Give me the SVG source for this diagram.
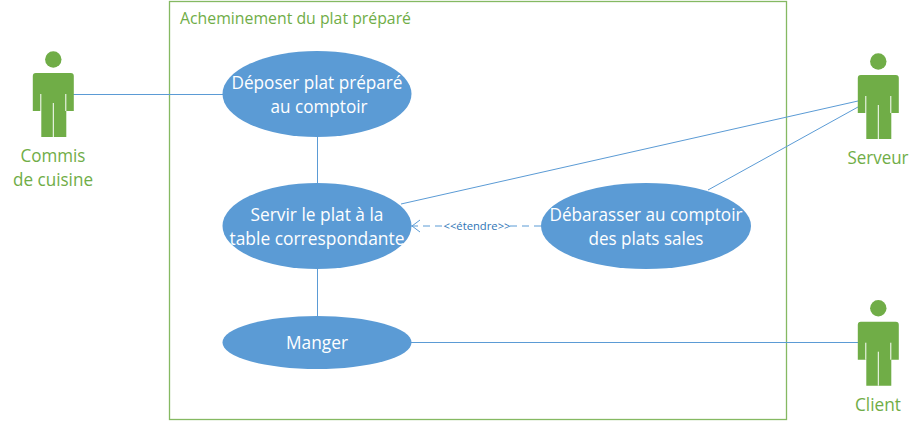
<svg xmlns="http://www.w3.org/2000/svg" width="922" height="427" viewBox="0 0 922 427">
<style>
text{font-family:"Open Sans","Noto Sans","Liberation Sans",sans-serif;text-anchor:middle}
.uc{fill:#5b9bd5}
.ut{fill:#fff;font-size:18.500px}
.g{fill:#70ad47}
.gt{fill:#70ad47;font-size:17.500px}
.c{fill:none;stroke:#5b9bd5;stroke-width:1}
.w{fill:none;stroke:#fff;stroke-width:1}
</style>
<defs>
<g id="actor">
<circle class="g" cx="0" cy="-13.500" r="8.200"/>
<path class="g" d="M-17.500 0H17.500Q20.500 0 20.500 3V38H13V64H-12V38H-20.500V3Q-20.500 0 -17.500 0Z"/>
<path class="w" d="M-12.500 21V38M12.500 21V38M0 30V64"/>
</g>
</defs>
<rect width="922" height="427" fill="#fff"/>
<g id="frame">
<rect x="169.500" y="1.500" width="617" height="418" fill="none" stroke="#70ad47" stroke-opacity=".85" stroke-width="1.300"/>
<text class="gt" x="180" y="24" style="text-anchor:start;font-size:15.500px" textLength="231" lengthAdjust="spacingAndGlyphs">Acheminement du plat préparé</text>
</g>
<g id="connectors">
<path class="c" d="M73 94.500H223"/>
<path class="c" d="M317.500 137V183"/>
<path class="c" d="M317.500 269V316"/>
<path class="c" d="M401 204L858 101"/>
<path class="c" d="M708 190L858 107"/>
<path class="c" d="M411 342.500H858"/>
<path class="c" d="M541 226H510M442 226H411" stroke-dasharray="7 5"/>
<path class="c" d="M420 220L412 226L420 232"/>
<text x="477" y="230" style="font-size:10.500px;fill:#2e75b6" textLength="67" lengthAdjust="spacingAndGlyphs">&lt;&lt;étendre&gt;&gt;</text>
</g>
<g id="uc1">
<ellipse class="uc" cx="317" cy="94" rx="94.500" ry="43"/>
<text class="ut" x="317" y="89" textLength="171" lengthAdjust="spacingAndGlyphs">Déposer plat préparé</text>
<text class="ut" x="319" y="113" textLength="97" lengthAdjust="spacingAndGlyphs">au comptoir</text>
</g>
<g id="uc2">
<ellipse class="uc" cx="317" cy="226" rx="94.500" ry="43"/>
<text class="ut" x="317" y="221" textLength="133" lengthAdjust="spacingAndGlyphs">Servir le plat à la</text>
<text class="ut" x="317" y="245" textLength="175" lengthAdjust="spacingAndGlyphs">table correspondante</text>
</g>
<g id="uc3">
<ellipse class="uc" cx="646" cy="226" rx="105" ry="43"/>
<text class="ut" x="646" y="221" textLength="193" lengthAdjust="spacingAndGlyphs">Débarasser au comptoir</text>
<text class="ut" x="646" y="245" textLength="115" lengthAdjust="spacingAndGlyphs">des plats sales</text>
</g>
<g id="uc4">
<ellipse class="uc" cx="317" cy="342.500" rx="94.500" ry="26.500"/>
<text class="ut" x="317" y="349" textLength="62" lengthAdjust="spacingAndGlyphs">Manger</text>
</g>
<g id="actor-commis">
<use href="#actor" x="53.300" y="73"/>
<text class="gt" x="53" y="162" textLength="65" lengthAdjust="spacingAndGlyphs">Commis</text>
<text class="gt" x="53" y="186" textLength="80" lengthAdjust="spacingAndGlyphs">de cuisine</text>
</g>
<g id="actor-serveur">
<use href="#actor" x="878.300" y="75"/>
<text class="gt" x="878" y="164" textLength="61" lengthAdjust="spacingAndGlyphs">Serveur</text>
</g>
<g id="actor-client">
<use href="#actor" x="878.300" y="321.700"/>
<text class="gt" x="878" y="411" textLength="46" lengthAdjust="spacingAndGlyphs">Client</text>
</g>
</svg>
